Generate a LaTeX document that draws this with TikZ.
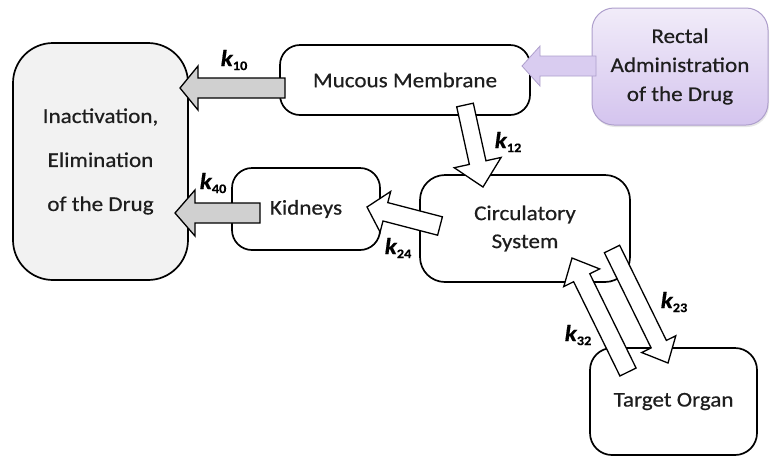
\documentclass[tikz,border=0pt]{standalone}
\usepackage{fontspec}
\setmainfont{Carlito}[FakeStretch=1.1,FakeBold=0.5]
\usetikzlibrary{calc,shadows}
\definecolor{ink}{HTML}{1E1E1E}
\definecolor{elimfill}{HTML}{F2F2F2}
\definecolor{outarrow}{HTML}{D0D0D0}
\definecolor{lilactop}{HTML}{F1ECF9}
\definecolor{lilacbot}{HTML}{D4C4EE}
\definecolor{lilacline}{HTML}{AE9FCC}
\definecolor{lilacarrow}{HTML}{D9CCF0}

% block arrow: #1 style, #2 name, #3 tail, #4 tip,
% #5 shaft half width, #6 head half width, #7 head length
\newcommand\blockarrow[7]{%
  \coordinate (#2-base) at ($(#4)!#7!(#3)$);
  \draw[#1] ($(#3)!#5!90:(#4)$) -- ($(#2-base)!#5!90:(#4)$)
    -- ($(#2-base)!#6!90:(#4)$) -- (#4)
    -- ($(#2-base)!#6!-90:(#4)$) -- ($(#2-base)!#5!-90:(#4)$)
    -- ($(#3)!#5!-90:(#4)$) -- cycle;
}
% rate constant label
\newcommand\rate[1]{{\fontsize{23}{23}\selectfont\bfseries\itshape k}\raisebox{-4pt}{\fontsize{13}{13}\selectfont\bfseries #1}}

\begin{document}
\begin{tikzpicture}[x=1pt,y=-1pt,
  box/.style={draw=black, line width=1.7pt, fill=white, align=center,
    inner sep=0pt, text=ink, font=\fontsize{21}{26}\selectfont},
  flow/.style={draw=black, line width=1.3pt, fill=white, line join=miter},
  outflow/.style={flow, fill=outarrow},
  inflow/.style={draw=lilacline, line width=0.8pt, fill=lilacarrow},
  ratelabel/.style={text=black, inner sep=0pt}]
\useasboundingbox (0,0) rectangle (770,459);

% compartments
\node[box, fill=elimfill, rounded corners=40pt, minimum width=175pt, minimum height=237pt,
  font=\fontsize{21}{44}\selectfont] (elim) at (100.5,161.5)
  {Inactivation,\\Elimination\\of the Drug};
\node[box, rounded corners=20pt, minimum width=250pt, minimum height=70pt] (mucous) at (405,80)
  {Mucous Membrane};
\node[box, draw=lilacline, line width=1pt, top color=lilactop, bottom color=lilacbot,
  drop shadow={opacity=0.2, shadow xshift=1pt, shadow yshift=-2pt},
  rounded corners=22pt, minimum width=176pt, minimum height=117pt,
  font=\fontsize{21}{29}\selectfont] (rectal) at (680,66.5)
  {Rectal\\Administration\\of the Drug};
\node[box, rounded corners=25pt, minimum width=210pt, minimum height=107pt,
  font=\fontsize{21}{28}\selectfont] (circ) at (525,228.5)
  {Circulatory\\System};
\node[box, rounded corners=20pt, minimum width=148pt, minimum height=82pt] (kid) at (306,209)
  {Kidneys};
\node[box, rounded corners=22pt, minimum width=167pt, minimum height=107pt] (target) at (673.5,401.5)
  {Target Organ};

% arrow end points
\coordinate (inTail) at (596,66);   \coordinate (inTip) at (522,66);
\coordinate (k10Tail) at (285,88);  \coordinate (k10Tip) at (180,88);
\coordinate (k12Tail) at (465,105); \coordinate (k12Tip) at (483,187);
\coordinate (k24Tail) at (440,226); \coordinate (k24Tip) at (367,207);
\coordinate (k40Tail) at (260,213); \coordinate (k40Tip) at (175,213);
\coordinate (k23Tail) at (612,249); \coordinate (k23Tip) at (668,363);
\coordinate (k32Tail) at (628,372); \coordinate (k32Tip) at (572,258);

% transfers
\blockarrow{inflow}{in}{inTail}{inTip}{10pt}{20pt}{18pt}
\blockarrow{outflow}{k10}{k10Tail}{k10Tip}{10pt}{22pt}{18pt}
\blockarrow{flow}{k12}{k12Tail}{k12Tip}{8.5pt}{24pt}{25pt}
\blockarrow{flow}{k24}{k24Tail}{k24Tip}{9.5pt}{21pt}{19pt}
\blockarrow{outflow}{k40}{k40Tail}{k40Tip}{10pt}{23pt}{20pt}
\blockarrow{flow}{k23}{k23Tail}{k23Tip}{8.5pt}{19pt}{21pt}
\blockarrow{flow}{k32}{k32Tail}{k32Tip}{9pt}{20pt}{22pt}

% rate constants
\node[ratelabel] (l10) at (234,60) {\rate{10}};
\node[ratelabel] (l12) at (508,142) {\rate{12}};
\node[ratelabel] (l24) at (398,248) {\rate{24}};
\node[ratelabel] (l40) at (213,183) {\rate{40}};
\node[ratelabel] (l23) at (674,302) {\rate{23}};
\node[ratelabel] (l32) at (578,335) {\rate{32}};
\end{tikzpicture}
\end{document}
